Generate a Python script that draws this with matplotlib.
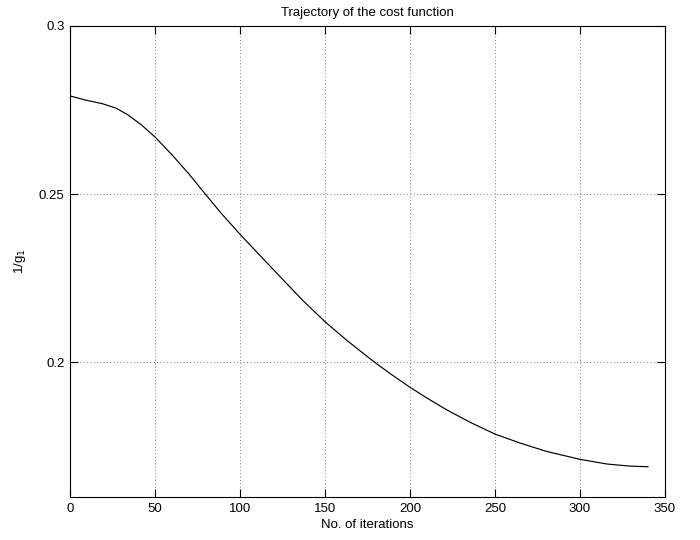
import numpy as np
import matplotlib.pyplot as plt

plt.rcParams['font.family'] = ['Liberation Sans', 'DejaVu Sans']

# values
iterations = [0, 9, 19, 27, 34, 42, 50, 60, 70, 79, 89, 100, 108, 114, 126,
              137, 150, 163, 178, 188, 200, 211, 222, 235, 250, 265, 280,
              300, 316, 329, 340]
cost = [0.2792, 0.2780, 0.2769, 0.2756, 0.2736, 0.2706, 0.2670, 0.2617,
        0.2560, 0.2504, 0.2443, 0.2381, 0.2338, 0.2306, 0.2242, 0.2184,
        0.2121, 0.2065, 0.2005, 0.1968, 0.1926, 0.1891, 0.1858, 0.1823,
        0.1787, 0.1760, 0.1736, 0.1712, 0.1698, 0.1692, 0.1690]

x_ticks = [0, 50, 100, 150, 200, 250, 300, 350]
y_ticks = [0.2, 0.25, 0.3]

fig = plt.figure(figsize=(7, 5.4), dpi=100)
ax = fig.add_axes([0.1, 0.0796, 0.85, 0.8723])

ax.plot(iterations, cost, color='black', linewidth=0.85)

ax.set_xlim(0, 350)
ax.set_ylim(0.16, 0.3)
ax.set_xticks(x_ticks)
ax.set_yticks(y_ticks)
ax.set_yticklabels(['0.2', '0.25', '0.3'])
ax.tick_params(direction='in', length=6, top=True, right=True, labelsize=9.5,
               width=0.8, pad=4)
ax.grid(True, linestyle=(0, (1, 3)), color='#555555', linewidth=0.6)
for s in ax.spines.values():
    s.set_linewidth(0.8)

ax.set_title('Trajectory of the cost function', fontsize=9.5, pad=7)
ax.set_xlabel('No. of iterations', fontsize=9.5, labelpad=3)
ax.set_ylabel('1/g$_1$', fontsize=9.5, labelpad=8)

fig.savefig('out.png', dpi=100)
